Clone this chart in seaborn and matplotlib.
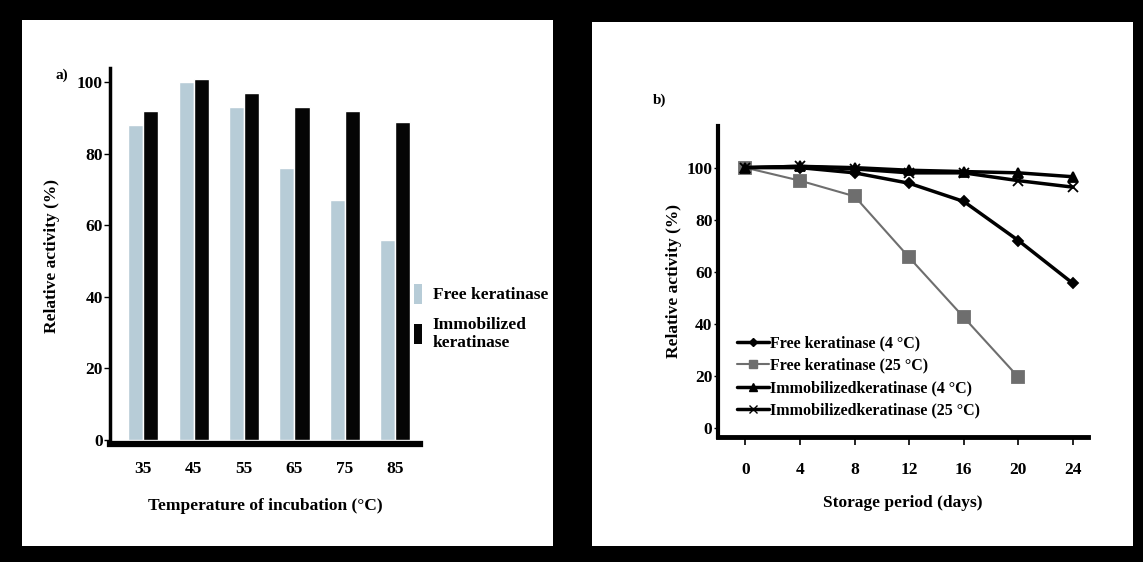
import matplotlib
matplotlib.use("Agg")
import matplotlib.pyplot as plt
from matplotlib.patches import Rectangle, Patch
from matplotlib.lines import Line2D
import seaborn as sns
import pandas as pd

# ---- data ----
temperatures = ["35", "45", "55", "65", "75", "85"]
free_temp = [88, 100, 93, 76, 67, 56]
immob_temp = [92, 101, 97, 93, 92, 89]

days = [0, 4, 8, 12, 16, 20, 24]
free_4 = [100, 100, 98, 94, 87, 72, 55.5]
free_25 = [100, 95, 89, 65.5, 42.5, 19.5]
immob_4 = [100, 100.5, 100, 99, 98.5, 98, 96.5]
immob_25 = [100, 100.5, 99.5, 98, 98, 95, 92.5]

bar_labels = ["Free keratinase", "Immobilized\nkeratinase"]
line_labels = ["Free keratinase (4 \u00b0C)", "Free keratinase (25 \u00b0C)",
               "Immobilizedkeratinase (4 \u00b0C)", "Immobilizedkeratinase (25 \u00b0C)"]

sns.set_theme(style="white")
plt.rcParams["font.family"] = ["Liberation Serif", "DejaVu Serif"]
plt.rcParams["font.weight"] = "bold"
plt.rcParams["axes.labelweight"] = "bold"
plt.rcParams["text.color"] = "black"
plt.rcParams["axes.labelcolor"] = "black"
plt.rcParams["xtick.color"] = "black"
plt.rcParams["ytick.color"] = "black"

W, H = 1143, 562
fig = plt.figure(figsize=(W / 100, H / 100), dpi=100, facecolor="black")

def fx(px):
    return px / W

def fy(py):
    return 1 - py / H

# white panels
fig.patches.append(Rectangle((fx(22), fy(546)), fx(553 - 22), (546 - 20) / H,
                             transform=fig.transFigure, facecolor="white", edgecolor="none", zorder=-5))
fig.patches.append(Rectangle((fx(592), fy(546)), fx(1133 - 592), (546 - 22) / H,
                             transform=fig.transFigure, facecolor="white", edgecolor="none", zorder=-5))

# ---- panel a ----
bar_df = pd.DataFrame({
    "temp": temperatures * 2,
    "activity": free_temp + immob_temp,
    "series": [bar_labels[0]] * len(temperatures) + [bar_labels[1]] * len(temperatures),
})
axa = fig.add_axes([fx(110), fy(444), fx(420 - 110), (444 - 68) / H])
axa.set_facecolor("none")
sns.barplot(data=bar_df, x="temp", y="activity", hue="series", ax=axa,
            palette={bar_labels[0]: "#b7ccd7", bar_labels[1]: "#050505"},
            width=0.6, saturation=1, legend=False, errorbar=None)
axa.set_xlim(-0.66, 5.49)
axa.set_ylim(-1.2, 104)
axa.set_yticks([0, 20, 40, 60, 80, 100])
axa.set_xlabel("Temperature of incubation (\u00b0C)", fontsize=12.5, labelpad=15)
axa.set_ylabel("Relative activity (%)", fontsize=12.5, labelpad=12)
for s in ["top", "right"]:
    axa.spines[s].set_visible(False)
axa.spines["left"].set_linewidth(2.5)
axa.spines["bottom"].set_linewidth(4.5)
axa.spines["left"].set_color("black")
axa.spines["bottom"].set_color("black")
axa.tick_params(axis="x", length=0, pad=12, labelsize=12.5)
axa.tick_params(axis="y", length=4, width=1, direction="out", left=True, pad=1, labelsize=12.5)
for t in axa.get_xticklabels() + axa.get_yticklabels():
    t.set_fontweight("bold")
fig.text(fx(62), fy(75), "a)", fontsize=11, fontweight="bold", ha="center", va="center")

fig.legend(handles=[Patch(facecolor="#b7ccd7", edgecolor="none"),
                    Patch(facecolor="#050505", edgecolor="none")],
           labels=bar_labels, loc="upper left",
           bbox_to_anchor=(fx(398), fy(268)), frameon=False,
           prop={"family": "Liberation Serif", "weight": "bold", "size": 12.5},
           handlelength=0.5, handleheight=1.4, handletextpad=0.6, labelspacing=0.75)

# ---- panel b ----
axb = fig.add_axes([fx(718), fy(437), fx(1088 - 718), (437 - 126) / H])
axb.set_facecolor("none")
styles = [
    dict(color="#000000", lw=2.5, marker="D", ms=5, mfc="black", mec="black"),
    dict(color="#6e6e6e", lw=1.5, marker="s", ms=9, mfc="#6e6e6e", mec="#6e6e6e"),
    dict(color="#000000", lw=2.5, marker="^", ms=7, mfc="black", mec="black"),
    dict(color="#000000", lw=2.5, marker="x", ms=7, mfc="black", mec="black"),
]
series_vals = [free_4, free_25, immob_4, immob_25]
for lab, vals, st in zip(line_labels, series_vals, styles):
    d = pd.DataFrame({"day": days[:len(vals)], "activity": vals})
    sns.lineplot(data=d, x="day", y="activity", ax=axb, color=st["color"],
                 linewidth=st["lw"], marker=st["marker"], markersize=st["ms"],
                 markerfacecolor=st["mfc"], markeredgecolor=st["mec"],
                 markeredgewidth=1.3, label=lab, legend=False)

axb.set_xlim(-2, 25.1)
axb.set_ylim(-3.5, 116)
axb.set_xticks(days)
axb.set_yticks([0, 20, 40, 60, 80, 100])
axb.set_xlabel("Storage period (days)", fontsize=12.5, labelpad=12)
axb.set_ylabel("Relative activity (%)", fontsize=12.5, labelpad=3)
for s in ["top", "right"]:
    axb.spines[s].set_visible(False)
axb.spines["left"].set_linewidth(3)
axb.spines["bottom"].set_linewidth(3.5)
axb.spines["left"].set_color("black")
axb.spines["bottom"].set_color("black")
axb.tick_params(axis="x", length=6, width=1.2, direction="out", bottom=True, pad=12, labelsize=12.5)
axb.tick_params(axis="y", length=3, width=1, direction="out", left=True, pad=1, labelsize=12.5)
for t in axb.get_xticklabels() + axb.get_yticklabels():
    t.set_fontweight("bold")
fig.text(fx(660), fy(100), "b)", fontsize=11, fontweight="bold", ha="center", va="center")

handles_b = [
    Line2D([], [], color="black", lw=2.5, marker="D", markersize=4),
    Line2D([], [], color="#6e6e6e", lw=1.5, marker="s", markersize=6),
    Line2D([], [], color="black", lw=2.5, marker="^", markersize=6),
    Line2D([], [], color="black", lw=2.5, marker="x", markersize=6),
]
axb.legend(handles=handles_b, labels=line_labels, loc="upper left",
           bbox_to_anchor=(fx(731), fy(329)), bbox_transform=fig.transFigure,
           frameon=False, prop={"family": "Liberation Serif", "weight": "bold", "size": 11.5},
           handlelength=2.0, handletextpad=0.05, labelspacing=0.4, borderaxespad=0)

fig.savefig("out.png", dpi=100, facecolor="black")
